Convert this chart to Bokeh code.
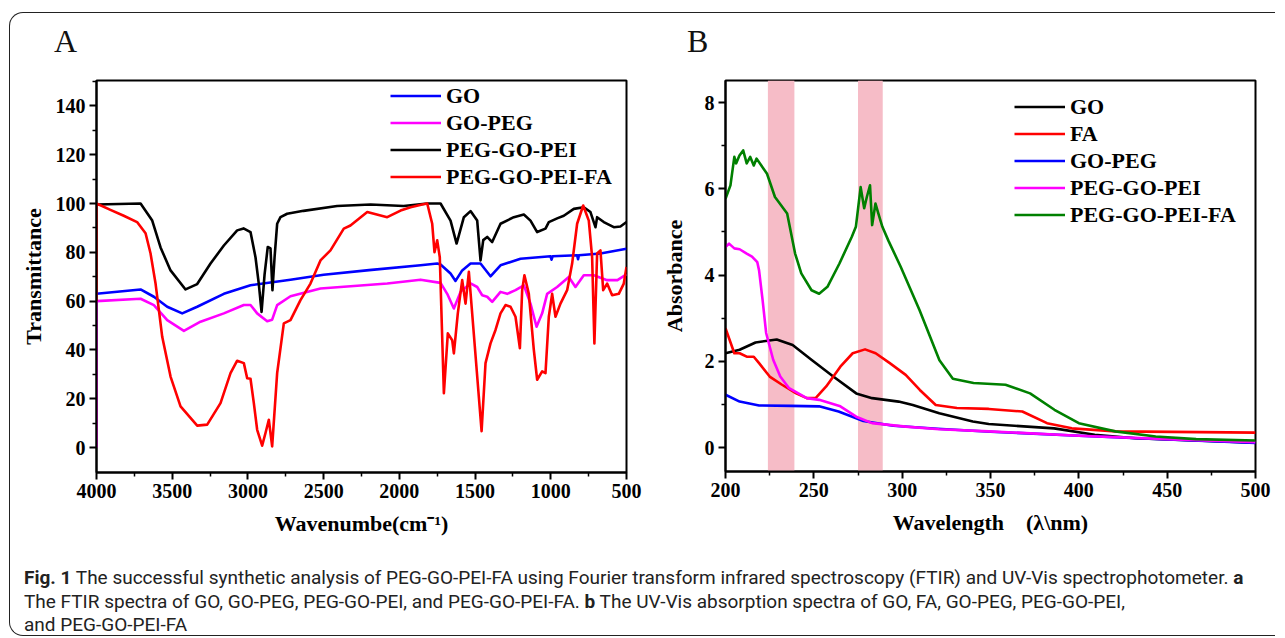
from bokeh.plotting import figure
from bokeh.models import Range1d, FixedTicker, Legend, LegendItem, BoxAnnotation, Div
from bokeh.layouts import row, column
from bokeh.embed import file_html
from bokeh.resources import INLINE

# ---------------- Panel A: FTIR ----------------
go_wn = [4000, 3709, 3621, 3533, 3434, 3335, 3159, 2983, 2719, 2500, 2200, 1860, 1750, 1728,
         1662, 1629, 1585, 1530, 1464, 1398, 1332, 1200, 1002, 995, 988, 826, 820, 814, 672, 500]
go_t = [63, 64.8, 61.8, 57.7, 55, 57.7, 63, 66.5, 68.8, 70.8, 72.7, 74.7, 75.4, 75.0,
        71.3, 68.3, 72.6, 75.4, 75.4, 70.2, 74.7, 77.4, 78.4, 77.0, 78.4, 78.8, 77.2, 78.8, 79.5, 81.5]

gopeg_wn = [4000, 4000, 3709, 3621, 3533, 3423, 3313, 3159, 3027, 2983, 2939, 2873, 2840, 2807,
            2719, 2521, 2322, 2080, 1860, 1728, 1684, 1640, 1596, 1530, 1486, 1453, 1420, 1387,
            1332, 1288, 1233, 1178, 1134, 1094, 1057, 1024, 958, 881, 837, 782, 716, 628, 560, 500]
gopeg_t = [0, 60, 61, 58.4, 52.2, 47.8, 51.6, 55, 58.4, 58.4, 55, 51.8, 52.4, 58.4,
           62, 65.2, 66.1, 67.2, 68.8, 67.5, 63, 57, 63.8, 67.3, 65.8, 62.4, 61.8, 59.7,
           63.8, 63, 64.5, 66.5, 59, 49.5, 55, 63, 65.8, 69.9, 65.8, 70.6, 70.6, 68.6, 68.6, 71]

pei_wn = [4000, 3709, 3632, 3577, 3511, 3412, 3335, 3247, 3159, 3071, 3029, 2983, 2950, 2928,
          2910, 2890, 2869, 2851, 2838, 2824, 2807, 2785, 2741, 2633, 2411, 2190, 1972, 1816,
          1728, 1662, 1622, 1574, 1530, 1486, 1464, 1446, 1420, 1387, 1332, 1244, 1178, 1134,
          1090, 1035, 1013, 958, 914, 848, 782, 738, 705, 694, 650, 584, 540, 500]
pei_t = [99.6, 100, 93, 82, 72.6, 64.8, 67, 75.4, 82.8, 89, 89.8, 88.3, 78, 67,
         55.6, 71, 82.2, 81.6, 64.5, 78, 91.7, 94.4, 95.8, 97, 99, 99.6, 99, 100,
         100, 93, 83.6, 94.4, 96.9, 93, 76.7, 85, 86.3, 84.2, 91.7, 94.4, 95.5, 93,
         88.3, 89.7, 92.4, 93.9, 95, 97.8, 98.5, 96.5, 90.3, 94.4, 92.4, 90.3, 90.6, 92.4]

fa_wn = [4000, 4000, 3908, 3820, 3732, 3676, 3643, 3610, 3588, 3566, 3511, 3445, 3335, 3269,
         3181, 3115, 3071, 3027, 3005, 2983, 2961, 2939, 2906, 2884, 2862, 2840, 2807, 2763,
         2719, 2653, 2587, 2521, 2455, 2367, 2323, 2212, 2080, 1992, 1926, 1849, 1816, 1783,
         1768, 1750, 1733, 1706, 1680, 1651, 1640, 1614, 1585, 1563, 1541, 1457, 1431, 1398,
         1365, 1332, 1299, 1266, 1233, 1204, 1189, 1174, 1145, 1112, 1090, 1057, 1035, 1013,
         991, 969, 936, 892, 859, 826, 786, 749, 727, 712, 694, 672, 654, 628, 595, 551, 518, 500]
fa_t = [60, 100, 97.4, 95, 92.4, 87.8, 79.5, 67.2, 56.3, 45.4, 29.1, 16.9, 9, 9.4,
        18.2, 30.5, 35.6, 34.6, 28.4, 28.2, 18.2, 7.3, 0.8, 6, 11.4, 0.5, 30.5, 50.9,
        52.2, 60.4, 67.2, 76.7, 80.8, 89.7, 91, 96.5, 94.4, 97.1, 98.5, 99.6, 100, 91.7,
        80.1, 84.9, 78, 22.3, 46.8, 44, 38.6, 55, 68.6, 59, 72, 6.7, 34.6, 42.7,
        48.2, 55, 58.4, 57.7, 53.6, 40.7, 64.5, 70.6, 63, 40, 27.8, 31.2, 30.5, 53.6,
        63, 53.6, 59, 64.5, 75.4, 91.7, 99.2, 93, 78, 42.7, 79.5, 80.8, 64.5, 67.2, 62.4, 63, 67.2, 74]

ftir_names = ["GO", "GO-PEG", "PEG-GO-PEI", "PEG-GO-PEI-FA"]
ftir_x_ticks = [500, 1000, 1500, 2000, 2500, 3000, 3500, 4000]
ftir_y_ticks = [0, 20, 40, 60, 80, 100, 120, 140]

# ---------------- Panel B: UV-Vis ----------------
uv_go_nm = [200, 208, 217, 229, 238, 249, 261, 274, 283, 298, 306, 321, 340, 349, 386, 409, 432, 500]
uv_go_a = [2.19, 2.27, 2.44, 2.51, 2.38, 2.03, 1.65, 1.26, 1.15, 1.07, 0.99, 0.8, 0.61, 0.55, 0.45, 0.3, 0.22, 0.12]

uv_fa_nm = [200, 205, 208, 212, 216, 219, 225, 232, 240, 246, 251, 257, 265, 272, 279, 285, 293,
            302, 310, 319, 331, 349, 368, 382, 396, 421, 500]
uv_fa_a = [2.77, 2.19, 2.19, 2.11, 2.11, 1.96, 1.65, 1.46, 1.26, 1.15, 1.15, 1.42, 1.88, 2.19, 2.28,
           2.19, 1.96, 1.69, 1.34, 0.99, 0.92, 0.9, 0.84, 0.57, 0.45, 0.38, 0.35]

uv_gopeg_nm = [200, 208, 219, 237, 253, 264, 278, 295, 320, 350, 400, 450, 500]
uv_gopeg_a = [1.23, 1.07, 0.98, 0.97, 0.96, 0.84, 0.62, 0.51, 0.44, 0.37, 0.28, 0.19, 0.11]

uv_pei_nm = [200, 202, 205, 208, 212, 215, 218, 219, 221, 223, 227, 231, 236, 246, 253, 265, 274,
             283, 302, 321, 349, 400, 450, 500]
uv_pei_a = [4.65, 4.73, 4.62, 4.6, 4.5, 4.43, 4.3, 4.11, 3.42, 2.66, 2.04, 1.65, 1.38, 1.15, 1.11,
            0.96, 0.72, 0.57, 0.49, 0.43, 0.38, 0.28, 0.2, 0.13]

uv_peifa_nm = [200, 202.8, 205, 206, 207.9, 210, 212, 214, 216, 217.6, 223.5, 228, 234.9, 239.4,
               242.9, 248.7, 253, 257.7, 264.5, 271.5, 273.8, 276.5, 278.5, 280, 281.8, 283, 284.9,
               286.5, 288.8, 292.2, 299.1, 309.8, 321.1, 328.7, 340.4, 358.5, 372.4, 386.2, 400,
               420.6, 443.5, 466.4, 500]
uv_peifa_a = [5.77, 6.08, 6.74, 6.59, 6.77, 6.89, 6.59, 6.74, 6.54, 6.70, 6.35, 5.81, 5.43, 4.50,
              4.04, 3.65, 3.57, 3.73, 4.27, 4.89, 5.12, 6.04, 5.55, 5.81, 6.08, 5.16, 5.66,
              5.43, 5.12, 4.8, 4.2, 3.19, 2.03, 1.6, 1.50, 1.46, 1.26, 0.88, 0.57,
              0.38, 0.26, 0.2, 0.17]

uv_names = ["GO", "FA", "GO-PEG", "PEG-GO-PEI", "PEG-GO-PEI-FA"]
band_left = [224, 275]
band_right = [239, 289]
uv_x_ticks = [200, 250, 300, 350, 400, 450, 500]
uv_y_ticks = [0, 2, 4, 6, 8]
panel_letters = ["A", "B"]

SERIF = "Liberation Serif"
LETTER_H = 44


def style(p, xticks, xminor, yticks, yminor, xlabel, ylabel, ylab_standoff):
    p.xaxis.ticker = FixedTicker(ticks=xticks, minor_ticks=xminor)
    p.yaxis.ticker = FixedTicker(ticks=yticks, minor_ticks=yminor)
    p.xaxis.axis_label = xlabel
    p.yaxis.axis_label = ylabel
    p.xaxis.axis_label_standoff = 10
    p.yaxis.axis_label_standoff = ylab_standoff
    for ax in (p.xaxis[0], p.yaxis[0]):
        ax.axis_line_width = 2
        ax.axis_line_color = "black"
        ax.major_tick_line_width = 2
        ax.major_tick_line_color = "black"
        ax.major_tick_out = 7
        ax.major_tick_in = 0
        ax.minor_tick_line_width = 1.5
        ax.minor_tick_line_color = "black"
        ax.minor_tick_out = 4
        ax.minor_tick_in = 0
        ax.major_label_standoff = 4
        ax.major_label_text_font = SERIF
        ax.major_label_text_font_style = "bold"
        ax.major_label_text_font_size = "20px"
        ax.major_label_text_color = "black"
        ax.axis_label_text_font = SERIF
        ax.axis_label_text_font_style = "bold"
        ax.axis_label_text_font_size = "22px"
        ax.axis_label_text_color = "black"
    p.grid.visible = False
    p.outline_line_color = "black"
    p.outline_line_width = 2
    p.outline_line_alpha = 1
    p.background_fill_color = "white"
    p.border_fill_color = "white"


def make_legend(p, renderers, names, x, y):
    items = [LegendItem(label=n, renderers=[r]) for n, r in zip(names, renderers)]
    lg = Legend(items=items, location=(x, y), border_line_color=None,
                background_fill_alpha=0, padding=0, margin=0, spacing=0,
                glyph_width=51, glyph_height=27, label_height=27, label_standoff=5,
                label_text_font=SERIF, label_text_font_style="bold",
                label_text_font_size="22px", label_text_color="black")
    p.add_layout(lg)


# Panel A
pA = figure(frame_width=530, frame_height=392, min_border_left=86, min_border_right=27,
            min_border_top=67 - LETTER_H, min_border_bottom=75, title=None,
            x_range=Range1d(4000, 500), y_range=Range1d(-10.2, 150.4),
            output_backend="svg", toolbar_location=None)
style(pA, ftir_x_ticks, [750, 1250, 1750, 2250, 2750, 3250, 3750],
      ftir_y_ticks, [10, 30, 50, 70, 90, 110, 130, 150],
      "Wavenumbe(cm\u207b\u00b9)", "Transmittance", 7)
ra = []
for xs, ys, c in [(go_wn, go_t, "#0000ff"), (gopeg_wn, gopeg_t, "#ff00ff"),
                  (pei_wn, pei_t, "#000000"), (fa_wn, fa_t, "#ff0000")]:
    ra.append(pA.line(xs, ys, line_color=c, line_width=2.6, line_join="round"))
make_legend(pA, ra, ftir_names, 294, 282)

# Panel B
pB = figure(frame_width=530, frame_height=391, min_border_left=72, min_border_right=20,
            min_border_top=66 - LETTER_H, min_border_bottom=77, title=None,
            x_range=Range1d(200, 500), y_range=Range1d(-0.55, 8.51),
            output_backend="svg", toolbar_location=None)
style(pB, uv_x_ticks, [225, 275, 325, 375, 425, 475],
      uv_y_ticks, [1, 3, 5, 7],
      "Wavelength\u2003(\u03bb\\nm)", "Absorbance", 15)
for l, r in zip(band_left, band_right):
    pB.add_layout(BoxAnnotation(left=l, right=r, fill_color="#f6bcc7", fill_alpha=1,
                                line_color=None, level="underlay"))
rb = []
for xs, ys, c in [(uv_go_nm, uv_go_a, "#000000"), (uv_fa_nm, uv_fa_a, "#ff0000"),
                  (uv_gopeg_nm, uv_gopeg_a, "#0000ff"), (uv_pei_nm, uv_pei_a, "#ff00ff"),
                  (uv_peifa_nm, uv_peifa_a, "#008000")]:
    rb.append(pB.line(xs, ys, line_color=c, line_width=2.6, line_join="round"))
make_legend(pB, rb, uv_names, 289, 243)

letters_html = (f'<span style="display:inline-block;width:633px">{panel_letters[0]}</span>'
                f'<span>{panel_letters[1]}</span>')
letters = Div(text=letters_html, width=1265, height=LETTER_H, margin=0,
              styles={"font-family": "'Liberation Serif', serif", "font-size": "32px",
                      "line-height": "32px", "color": "#111", "padding-top": "12px",
                      "padding-left": "44px", "box-sizing": "border-box",
                      "overflow": "visible", "white-space": "nowrap"})

caption_html = (
    "<b>Fig. 1</b> The successful synthetic analysis of PEG-GO-PEI-FA using Fourier transform "
    "infrared spectroscopy (FTIR) and UV-Vis spectrophotometer. <b>a</b><br>"
    "The FTIR spectra of GO, GO-PEG, PEG-GO-PEI, and PEG-GO-PEI-FA. <b>b</b> The UV-Vis "
    "absorption spectra of GO, FA, GO-PEG, PEG-GO-PEI,<br>"
    "and PEG-GO-PEI-FA"
)
cap = Div(text=caption_html, width=1264, height=88, margin=0,
          styles={"font-family": "Roboto, 'Open Sans', sans-serif",
                  "font-size": "19px", "line-height": "23.5px", "color": "#222",
                  "white-space": "nowrap", "padding-top": "19px", "padding-left": "14px",
                  "box-sizing": "border-box", "overflow": "visible"})

layout = column(letters, row(pA, pB, spacing=0), cap, spacing=0,
                styles={"border": "1.5px solid #222", "border-right": "none",
                        "border-radius": "14px 0 0 14px", "margin-top": "12px",
                        "margin-left": "9px", "background": "white"})

p = layout
open("out.html", "w").write(file_html(p, INLINE))
